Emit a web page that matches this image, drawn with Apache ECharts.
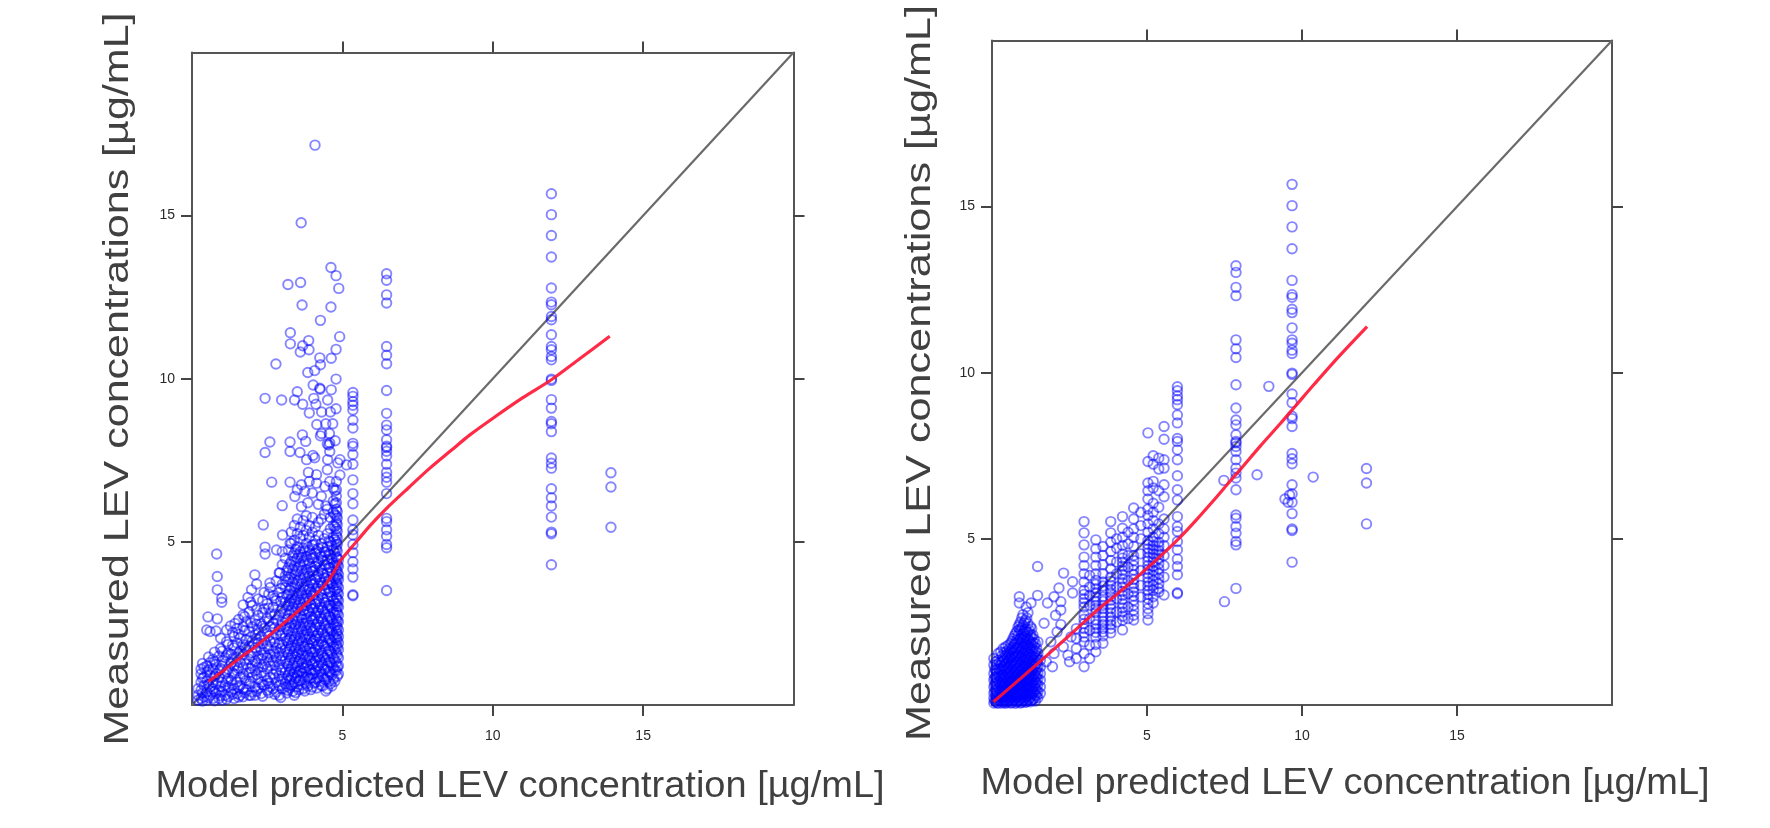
<!DOCTYPE html>
<html>
<head>
<meta charset="utf-8">
<title>LEV concentrations</title>
<script src="https://cdn.jsdelivr.net/npm/echarts@6/dist/echarts.min.js"></script>
<style>
html, body { margin: 0; padding: 0; background: #fff; }
#main { width: 1770px; height: 828px; filter: blur(0.55px); }
</style>
</head>
<body>
<div id="main"></div>
<script>
var xTitle = 'Model predicted LEV concentration [µg/mL]';
var yTitle = 'Measured LEV concentrations [µg/mL]';
var tickValues = [5, 10, 15];
var identityLine = [0, 20];

// measured values that line up in a column, same samples in both panels
var columnA = [9.58,9.46,9.3,9.19,9.04,8.73,8.49,8.02,7.93,7.68,7.38,6.9,6.48,6.17,5.67,5.37,5.22,4.92,4.67,4.39,4.17,3.92,3.38,3.35];
var columnB = [13.22,13.02,12.57,12.32,10.99,10.72,10.46,9.64,8.94,8.58,8.43,8.13,7.93,7.89,7.78,7.63,7.38,7.13,6.98,6.83,6.48,5.72,5.62,5.37,5.17,4.92,4.82,3.51];
var columnC = [15.67,15.03,14.39,13.73,12.78,12.35,12.27,11.91,11.81,11.35,10.99,10.89,10.68,10.58,9.99,9.95,9.36,9.1,8.69,8.62,8.38,7.57,7.41,7.26,6.63,6.35,6.1,5.76,5.3,5.25,4.3];
var columnD = [7.12,6.68,5.45];
var leftColumnX = [5.35, 6.47, 11.95, 13.93];
var rightColumnX = [5.98, 7.87, 9.68, 12.08];

// left panel, loose points above the cloud
var leftUpper = [[4.09,17.16],[3.63,14.78],[4.62,13.41],[4.79,13.16],[4.88,12.77],[3.19,12.89],[3.61,12.95],[3.66,12.26],[4.62,12.2],[4.27,11.79],
[3.27,11.41],[3.27,11.07],[3.88,11.17],[3.68,11.01],[3.89,10.89],[3.6,10.82],[4.91,11.29],[4.79,10.9],[4.63,10.63],[4.25,10.64],[4.27,10.43],[2.79,10.45],
[3.85,10.19],[4.08,10.25],[4.79,9.99],[4.03,9.81],[4.25,9.71],[4.26,9.68],[4.63,9.66],[3.5,9.6],[4.51,9.35],[4.05,9.4],[2.43,9.4],[2.98,9.35],[3.41,9.35],
[3.68,9.22],[4.12,9.22],[4.79,9.08],[3.9,8.95],[4.31,8.98],[4.6,8.98],[4.15,8.6],[4.45,8.62],[4.68,8.62],[4.31,8.32],[4.57,8.32],[4.27,8.25],[4.76,8.1],
[4.5,8.0],[4.55,7.97],[4.58,8.03],[2.59,8.06],[2.43,7.74],[3.26,8.06],[3.26,7.77],[3.67,8.28],[3.78,8.08],[3.59,7.74],[4.02,7.65],[4.08,7.58],[4.58,7.77],
[4.51,7.52],[3.81,7.52],[4.92,7.52],[5.14,7.36],[4.85,7.42],[4.5,7.21],[3.87,7.13],[4.14,7.06],[2.65,6.83],[3.26,6.83],[3.64,6.75],[3.9,6.85],[4.14,6.8],
[4.58,6.85],[4.92,7.05],[3.42,6.39],[3.5,6.6],[3.75,6.55],[4.0,6.5],[4.3,6.4],[4.42,6.7],[3.0,6.11],[3.64,6.08],[3.85,6.2],[4.2,6.15],[4.45,6.1],[2.37,5.52],
[3.01,5.21],[3.26,4.96],[2.81,4.75],[2.43,4.84],[2.43,4.63],[0.82,4.63],[0.84,3.94],[0.84,3.53],[0.99,3.27],[0.99,3.15],[0.53,2.7],[0.84,2.64],[0.49,2.3],
[0.8,2.27],[0.6,2.25],[1.43,2.5],[1.28,2.42],[2.09,3.99],[2.15,3.71],[1.98,3.53],[1.86,3.3],[1.7,3.07],[1.7,2.76],[2.59,3.74],[2.92,4.05],[2.35,3.2]];

// left panel, dense cloud read as narrow vertical strips
var leftStripX = [0.2,0.3,0.4,0.5,0.6,0.7,0.8,0.9,1.0,1.1,1.2,1.3,1.4,1.5,1.6,1.7,1.8,1.9,2.0,2.1,2.2,2.3,2.4,2.5,2.6,2.7,2.8,2.9,3.0,3.1,3.2,3.3,3.4,3.5,3.6,3.7,3.8,3.9,4.0,4.1,4.2,4.3,4.4,4.5,4.6,4.7,4.8,4.87];
var leftStripY = [
[.15,.3,.5],[.2,.45,.7,.95,1.1],[.25,.6,.85,1.15],[.15,.4,.75,1.0,1.2],[.3,.55,.9,1.3],[.2,.5,.7,1.1,1.4],[.35,.65,.95,1.25],[.2,.45,.85,1.05,1.5],
[.15,.4,.7,1.2,1.35,1.65],[.3,.6,.95,1.45],[.25,.55,.8,1.1,1.6,1.85],[.4,.75,1.3,1.55],[.2,.5,.95,1.2,1.75,2.1],[.35,.7,1.05,1.45,1.9,2.35],
[.3,.6,.85,1.3,1.65,2.05],[.25,.5,.95,1.15,1.55,1.85,2.4],[.45,.75,1.25,1.7,2.0,2.55],[.3,.65,1.0,1.4,1.8,2.25,2.85],[.4,.85,1.2,1.6,1.95,2.4,3.05],
[.3,.55,1.05,1.35,1.75,2.15,2.6],[.5,.8,1.15,1.5,1.9,2.3,2.75,3.25],[.35,.7,1.0,1.4,1.7,2.1,2.5],[.6,.9,1.25,1.6,2.0,2.35,2.95,3.45],
[.45,.75,1.1,1.45,1.8,2.2,2.65,3.1],[.55,.85,1.2,1.55,1.95,2.4,2.8,3.6],[.5,.95,1.35,1.65,2.05,2.5,3.0,3.35],[.4,.7,1.05,1.45,1.75,2.15,2.6,3.2,3.8],
[.3,.6,.9,1.25,1.6,1.9,2.3,2.75,3.45,4.05],[.5,.8,1.15,1.5,1.85,2.2,2.55,2.95,3.3,3.7,4.3,4.7],[.65,1.0,1.35,1.7,2.05,2.4,2.8,3.15,3.6,3.95,4.5],
[.45,.9,1.2,1.55,1.9,2.25,2.65,3.05,3.4,3.85,4.2,4.75],[.6,.85,1.1,1.45,1.8,2.1,2.5,2.9,3.25,3.6,4.0,4.4,4.95,5.3],
[.3,.7,1.0,1.3,1.65,2.0,2.35,2.7,3.1,3.45,3.85,4.25,4.65,5.05,5.5],[.55,.9,1.2,1.55,1.85,2.2,2.55,2.95,3.3,3.7,4.1,4.5,4.85,5.25,5.7],
[.75,1.05,1.4,1.7,2.05,2.4,2.75,3.15,3.5,3.9,4.3,4.7,5.1,5.45],[.5,.85,1.15,1.5,1.8,2.15,2.5,2.9,3.25,3.6,4.0,4.4,4.8,5.2,5.65],
[.65,1.0,1.3,1.65,2.0,2.3,2.65,3.05,3.4,3.8,4.15,4.55,4.95,5.35,5.8],[.8,1.1,1.45,1.75,2.1,2.45,2.85,3.2,3.55,3.95,4.35,4.75,5.15,5.5],
[.55,.95,1.25,1.6,1.9,2.25,2.6,2.95,3.35,3.7,4.1,4.5,4.9,5.3,5.75],[.7,1.05,1.35,1.7,2.05,2.4,2.75,3.1,3.5,3.85,4.25,4.65,5.05,5.45],
[.85,1.2,1.5,1.85,2.2,2.55,2.9,3.25,3.65,4.0,4.4,4.8,5.2,5.6],[.6,.95,1.3,1.6,1.95,2.3,2.65,3.0,3.4,3.75,4.15,4.55,4.95,5.7],
[.8,1.1,1.45,1.8,2.1,2.45,2.8,3.15,3.55,3.9,4.3,4.7,5.1,5.85],[.5,.87,1.2,1.55,1.9,2.25,2.6,2.95,3.3,3.7,4.05,4.45,4.85,5.25,6.0],
[.65,1.0,1.3,1.65,2.0,2.35,2.7,3.05,3.45,3.8,4.2,4.6,5.0,5.4,5.75],[.8,1.15,1.45,1.8,2.15,2.5,2.85,3.2,3.6,3.95,4.35,4.75,5.15,5.5,5.9,6.25,6.65],
[1.05,1.3,1.6,1.85,2.05,2.25,2.45,2.65,2.9,3.1,3.3,3.55,3.75,3.95,4.15,4.35,4.55,4.8,5.0,5.2,5.4,5.6,5.8,6.0,6.2,6.4,6.6,6.85],
[.95,1.2,1.45,1.7,1.9,2.1,2.3,2.55,2.75,3.0,3.2,3.4,3.6,3.85,4.0,4.25,4.45]];

// second pass over the same cloud, between the strips above
var leftFillX = [.35,.55,.75,.95,1.15,1.35,1.55,1.75,1.95,2.15,2.35,2.55,2.75,2.95,3.15,3.25,3.35,3.45,3.55,3.65,3.75,3.85,3.95,4.05,4.15,4.25,4.35,4.45,4.55,4.65,4.75,4.83];
var leftFillY = [
[.12,.37,.82,1.27],[.22,.63,1.08,1.47],[.13,.42,.88,1.33,1.62],[.28,.57,1.12,1.73,2.05],[.18,.72,1.03,1.52,1.94,2.3],[.33,.62,.98,1.42,1.83,2.22],
[.24,.53,1.12,1.58,2.17,2.62],[.38,.82,1.37,1.77,2.28,2.71],[.29,.72,1.12,1.52,2.08,2.52,3.15],[.42,.93,1.28,1.67,2.03,2.47,2.92],[.27,.62,1.17,1.53,1.88,2.42,2.83],
[.38,.67,1.32,1.72,2.12,2.57,2.97,3.4],[.33,.83,1.22,1.57,1.92,2.37,2.78,3.27],[.23,.72,1.07,1.38,1.73,2.12,2.43,2.88,3.17,3.58],
[.37,.57,.82,1.27,1.62,1.97,2.32,2.62,3.02,3.37,3.78,4.12],[.52,.77,1.02,1.38,1.72,2.02,2.43,2.83,3.18,3.52,3.92,4.32],
[.42,.63,.93,1.23,1.57,1.93,2.28,2.63,3.02,3.38,3.77,4.17,4.57],[.38,.82,1.13,1.47,1.77,2.12,2.47,2.87,3.23,3.62,4.02,4.42,4.77],
[.47,.73,1.02,1.33,1.62,1.97,2.33,2.68,3.07,3.43,3.82,4.23,4.62],[.62,.97,1.27,1.58,1.92,2.27,2.62,2.98,3.37,3.72,4.12,4.52],
[.43,.78,1.12,1.43,1.78,2.08,2.42,2.78,3.17,3.53,3.93,4.33,4.73],[.58,.87,1.22,1.52,1.87,2.18,2.53,2.88,3.27,3.63,4.03,4.43,4.83],
[.47,.82,1.07,1.37,1.72,2.02,2.37,2.72,3.08,3.47,3.83,4.22,4.62],[.67,.98,1.28,1.62,1.97,2.28,2.63,2.97,3.37,3.72,4.12,4.52,4.92],
[.52,.82,1.17,1.47,1.82,2.13,2.48,2.83,3.17,3.57,3.93,4.33,4.72],[.73,1.03,1.38,1.68,2.03,2.38,2.72,3.08,3.47,3.83,4.22,4.62],
[.58,.88,1.22,1.52,1.87,2.22,2.57,2.92,3.27,3.67,4.03,4.42,4.83],[.43,.77,1.08,1.38,1.72,2.07,2.42,2.77,3.13,3.52,3.88,4.28,4.68],
[.72,1.03,1.33,1.68,2.03,2.37,2.73,3.07,3.47,3.83,4.22,4.63,5.03],[.58,.92,1.22,1.57,1.92,2.27,2.62,2.97,3.33,3.72,4.08,4.48,4.88],
[.73,1.07,1.38,1.72,2.07,2.42,2.77,3.12,3.52,3.88,4.27,4.67,5.07,5.47,5.83,6.17,6.57],[.88,1.17,1.52,1.78,2.0,2.18,2.38,2.58,2.82,3.03,3.25,3.47,3.68,3.9,4.08,4.3,4.5,4.72,4.93,5.13,5.33,5.53,5.73,5.93]];
var leftRedX = [0.54,1.1,1.65,2.1,2.59,3.15,3.7,4.1,4.42,4.68,4.92,5.2,5.47,5.95,6.47,7.2,7.91,8.6,9.24,10.1,11.0,11.95,12.9,13.89];
var leftRedY = [0.72,1.09,1.48,1.78,2.15,2.58,3.02,3.38,3.68,4.02,4.4,4.72,5.01,5.53,6.03,6.66,7.26,7.79,8.28,8.85,9.42,9.97,10.62,11.3];

// right panel, blob near the origin and the band along the diagonal
var rightUpper = [[0.88,3.26],[0.88,3.07],[1.47,4.17],[1.47,3.3],[2.31,3.97],[2.16,3.52],[2.6,3.71],[2.6,3.37],[2.0,3.26],[1.79,3.07],[2.22,3.11],[2.22,2.86],
[1.68,2.46],[2.22,2.42],[1.26,3.07],[1.1,2.95],[2.05,2.7],[2.1,2.2],[1.9,1.9],[2.0,1.55],[2.3,1.75],[1.75,1.3],[1.95,1.15],[2.45,1.5],[2.5,1.3],[2.55,2.05],
[7.48,6.76],[8.55,6.93],[7.5,3.11],[8.93,9.59],[9.45,6.2],[9.55,6.1],[9.6,6.32],[10.36,6.86]];
var rightStripX = [0.06,0.12,0.2,0.28,0.36,0.44,0.52,0.6,0.68,0.76,0.84,0.92,1.0,1.08,1.16,1.24,1.32,1.4,1.48,1.56];
var rightStripY = [
[.06,.2,.35,.55,.75,.95,1.2,1.4],[.1,.28,.45,.65,.85,1.05,1.3],[.05,.18,.32,.5,.7,.9,1.1,1.35,1.55],[.12,.25,.4,.6,.8,1.0,1.2,1.6],[.08,.2,.35,.55,.72,.92,1.15,1.4,1.7],
[.05,.16,.3,.48,.66,.85,1.05,1.25,1.5,1.75],[.1,.24,.4,.58,.75,.95,1.12,1.32,1.55,1.8],[.06,.18,.34,.5,.68,.86,1.02,1.22,1.42,1.62,1.85],[.12,.28,.44,.6,.78,.96,1.15,1.35,1.55,1.75,2.0],
[.05,.2,.36,.54,.7,.88,1.06,1.26,1.46,1.66,1.86,2.15],[.1,.26,.42,.58,.76,.94,1.12,1.3,1.5,1.7,1.9,2.1,2.35],[.06,.18,.34,.5,.66,.84,1.02,1.2,1.4,1.6,1.8,2.0,2.25,2.5],
[.12,.28,.44,.6,.78,.96,1.14,1.34,1.54,1.74,1.94,2.16,2.4,2.72],[.08,.22,.38,.56,.72,.9,1.08,1.26,1.46,1.66,1.86,2.08,2.3,2.55],[.14,.3,.48,.64,.82,1,1.2,1.4,1.6,1.8,2.0,2.2,2.45,2.78],
[.1,.24,.4,.58,.76,.94,1.12,1.3,1.5,1.7,1.9,2.12,2.36],[.16,.34,.52,.7,.88,1.06,1.26,1.46,1.66,1.88,2.1],[.12,.3,.48,.66,.84,1.02,1.22,1.42,1.62,1.85],[.22,.4,.6,.78,.96,1.16,1.36,1.56,1.9],[.35,.55,.75,.95,1.15,1.35]];
var rightFillX = [0.09,0.16,0.24,0.32,0.4,0.48,0.56,0.64,0.72,0.8,0.88,0.96,1.04,1.12,1.2,1.28,1.36,1.44];
var rightFillY = [
[.13,.42,.62,.82,1.08],[.07,.23,.38,.58,.78,.98,1.22],[.14,.27,.47,.67,.87,1.07,1.27],[.06,.22,.37,.52,.68,.88,1.08,1.3,1.48],[.11,.26,.43,.62,.82,1.02,1.2,1.35,1.58],
[.08,.21,.38,.53,.72,.9,1.1,1.28,1.42,1.62],[.14,.28,.46,.64,.81,.99,1.18,1.38,1.48,1.7],[.07,.23,.4,.56,.72,.92,1.08,1.28,1.48,1.68,1.92],[.15,.32,.5,.64,.84,1.02,1.22,1.42,1.6,1.82,2.08],
[.09,.24,.38,.56,.74,.9,1.1,1.28,1.48,1.72,1.96,2.22],[.14,.3,.46,.62,.8,.98,1.18,1.36,1.56,1.76,1.98,2.28,2.42],[.08,.22,.4,.56,.72,.9,1.08,1.28,1.46,1.68,1.88,2.1,2.32,2.62],
[.16,.32,.5,.68,.86,1.04,1.24,1.42,1.62,1.82,2.02,2.24,2.48],[.1,.26,.44,.62,.78,.98,1.16,1.36,1.56,1.76,1.98,2.2,2.62],[.18,.36,.54,.72,.9,1.1,1.3,1.52,1.72,1.94,2.26],
[.14,.32,.5,.68,.84,1.04,1.22,1.44,1.62,1.82,2.04,2.3],[.2,.4,.58,.76,.92,1.14,1.34,1.54,1.76,1.98],[.28,.46,.66,.86,1.08,1.26,1.48,1.7]];
var rightBandX = [2.72,2.97,3.15,3.35,3.58,3.83,4.02,4.21,4.39,4.57,4.8,5.03,5.2,5.38,5.55];
var rightBandY = [
[2.3,2.0,1.7,1.4],[5.52,5.18,4.82,4.45,4.2,3.95,3.7,3.45,3.2,2.95,2.72,2.45,2.17,1.9,1.55,1.15],[3.9,3.55,3.3,3.0,2.6,2.25,1.8,1.4],
[4.97,4.7,4.45,4.2,3.95,3.75,3.5,3.25,3.0,2.78,2.55,2.3,2.05,1.82,1.6],[4.77,4.5,4.22,3.95,3.7,3.45,3.25,3.0,2.78,2.52,2.3,2.08,1.86],
[5.52,5.18,4.9,4.62,4.35,4.1,3.85,3.6,3.38,3.15,2.9,2.65,2.42,2.17],[5.0,4.72,4.3,3.95,3.55,3.2,2.8,2.5],
[5.67,5.32,5.05,4.8,4.55,4.3,4.05,3.8,3.55,3.3,3.05,2.8,2.55,2.26],[5.2,4.85,4.5,4.15,3.75,3.35,2.95,2.6],
[5.93,5.6,5.3,5.05,4.78,4.5,4.2,3.92,3.65,3.4,3.15,2.85,2.56],[5.8,5.4,5.0,4.55,4.05,3.6,3.25],
[8.19,7.33,6.68,6.45,6.2,5.9,5.7,5.45,5.2,4.95,4.7,4.45,4.2,3.95,3.7,3.45,3.2,2.9,2.56],[7.5,7.25,6.73,6.53,6.07,5.8,5.55,5.3,5.05,4.8,4.55,4.3,4.05,3.75,3.45,3.07],
[7.43,7.1,6.45,5.95,5.45,5.15,4.9,4.65,4.4,4.1,3.8,3.5],[8.38,8.0,7.38,7.13,6.63,6.27,5.6,5.3,5.05,4.8,4.5,4.2,3.85,3.31]];
// extra rings around the red line in the band
var rightBandFillX = [2.97,3.35,3.58,3.83,4.21,4.57,5.03,5.2,5.38];
var rightBandFillY = [
[3.33,3.08,2.58,2.3,2.05],[3.63,3.38,3.12,2.9,2.42,2.18],[3.58,3.12,2.9,2.65,2.42,2.2],[3.72,3.48,3.26,3.02,2.78,2.53,2.3],[4.42,4.18,3.92,3.68,3.42,3.18,2.92,2.67],
[4.35,4.06,3.78,3.52,3.28,3.0,2.7],[4.83,4.58,4.33,4.08,3.83,3.58,3.33,3.05,2.75],[4.92,4.68,4.43,4.18,3.9,3.6,3.26],[4.78,4.53,4.25,3.95,3.65,3.4]];
var rightRedX = [0.05,0.9,1.79,2.6,3.4,4.05,4.69,5.4,6.09,6.6,7.16,7.6,8.02,8.66,9.31,9.79,10.4,11.2,12.1];
var rightRedY = [0.1,0.78,1.51,2.18,2.86,3.35,3.86,4.45,5.07,5.58,6.17,6.65,7.1,7.8,8.48,9.0,9.66,10.5,11.39];

function columnPoints(xList) {
	var groups = [columnA, columnB, columnC, columnD];
	var pts = [];
	for (var i = 0; i < groups.length; i++) {
		for (var j = 0; j < groups[i].length; j++) {
			pts.push([xList[i], groups[i][j]]);
		}
	}
	return pts;
}

function stripPoints(xList, yLists) {
	var pts = [];
	for (var i = 0; i < xList.length; i++) {
		for (var j = 0; j < yLists[i].length; j++) {
			pts.push([xList[i], yLists[i][j]]);
		}
	}
	return pts;
}

function zip(xs, ys) {
	var pts = [];
	for (var i = 0; i < xs.length; i++) {
		pts.push([xs[i], ys[i]]);
	}
	return pts;
}

var leftPoints = columnPoints(leftColumnX).concat(leftUpper, stripPoints(leftStripX, leftStripY), stripPoints(leftFillX, leftFillY));
var rightPoints = columnPoints(rightColumnX).concat(rightUpper, stripPoints(rightStripX, rightStripY), stripPoints(rightFillX, rightFillY), stripPoints(rightBandX, rightBandY), stripPoints(rightBandFillX, rightBandFillY));

var frameLine = { show: true, onZero: false, lineStyle: { color: '#555', width: 2 } };
var frameTick = { show: true, length: 11, customValues: tickValues, lineStyle: { color: '#444', width: 2 } };

function makeAxis(gridIndex, position, labelled, margin) {
	return {
		type: 'value',
		gridIndex: gridIndex,
		position: position,
		min: 0,
		max: 20,
		axisLine: frameLine,
		axisTick: frameTick,
		splitLine: { show: false },
		axisLabel: {
			show: labelled,
			customValues: tickValues,
			margin: margin,
			color: '#2a2a2a',
			fontSize: 14,
			fontFamily: 'Liberation Sans'
		}
	};
}

function lineSeries(axisIndex, points, color, width, z, smooth) {
	return {
		type: 'line',
		xAxisIndex: axisIndex,
		yAxisIndex: axisIndex,
		data: points,
		showSymbol: false,
		silent: true,
		smooth: smooth,
		z: z,
		lineStyle: { color: color, width: width }
	};
}

function ringSeries(axisIndex, points) {
	return {
		type: 'scatter',
		xAxisIndex: axisIndex,
		yAxisIndex: axisIndex,
		data: points,
		symbol: 'circle',
		symbolSize: 9.5,
		z: 3,
		progressive: 0,
		itemStyle: { color: 'rgba(0,0,0,0)', borderColor: 'rgba(0,0,255,0.6)', borderWidth: 1.9 }
	};
}

function titleText(text, x, y, rotation, size, stretch) {
	return {
		type: 'text',
		x: x,
		y: y,
		rotation: rotation,
		scaleX: stretch,
		style: {
			text: text,
			fill: '#404040',
			font: size + 'px "Liberation Sans"',
			textAlign: 'center',
			textVerticalAlign: 'middle'
		}
	};
}

var myChart = echarts.init(document.getElementById('main'));
var identity = zip(identityLine, identityLine);

var option = {
	animation: false,
	backgroundColor: '#fff',
	grid: [
		{ left: 192, top: 52.5, width: 601.5, height: 652.5 },
		{ left: 992, top: 40.5, width: 620, height: 664.5 }
	],
	xAxis: [
		makeAxis(0, 'bottom', true, 24),
		makeAxis(0, 'top', false, 8),
		makeAxis(1, 'bottom', true, 24),
		makeAxis(1, 'top', false, 8)
	],
	yAxis: [
		makeAxis(0, 'left', true, 17),
		makeAxis(0, 'right', false, 8),
		makeAxis(1, 'left', true, 17),
		makeAxis(1, 'right', false, 8)
	],
	series: [
		lineSeries(0, identity, '#6a6a6a', 2.2, 2, false),
		ringSeries(0, leftPoints),
		lineSeries(0, zip(leftRedX, leftRedY), 'rgba(255,20,50,0.9)', 3.2, 4, 0.3),
		lineSeries(2, identity, '#6a6a6a', 2.2, 2, false),
		ringSeries(2, rightPoints),
		lineSeries(2, zip(rightRedX, rightRedY), 'rgba(255,20,50,0.9)', 3.2, 4, 0.3)
	],
	graphic: [
		titleText(xTitle, 520, 787, 0, 36, 1.055),
		titleText(xTitle, 1345, 784, 0, 36, 1.055),
		titleText(yTitle, 118, 379, Math.PI / 2, 35, 1.23),
		titleText(yTitle, 920, 373, Math.PI / 2, 35, 1.235)
	]
};

myChart.setOption(option);
</script>
</body>
</html>
